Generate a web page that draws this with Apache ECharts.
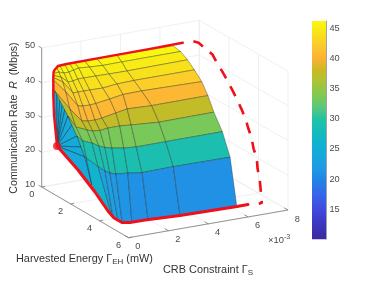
<!DOCTYPE html>
<html><head><meta charset="utf-8">
<script src="https://cdn.jsdelivr.net/npm/echarts@6/dist/echarts.min.js"></script>
<style>html,body{margin:0;padding:0;background:#fff}#c{width:374px;height:281px}</style>
</head><body><div id="c"></div>
<script>
// ---- values ----
const sTicks=[0,2,4,6,8];            // CRB constraint (x 10^-3)
const eTicks=[0,2,4,6];              // harvested energy (mW)
const zTicks=[10,20,30,40,50];       // rate (Mbps)
const barTicks=[15,20,25,30,35,40,45];
// surface rows: rate of each mesh row
const rowR=[46,45,44,42.5,40.5,37.5,33.5,29,21,13];
// colour value of the lowest band, per column gap
const lowBand=[24.4,26,23,22.3,21.8,21.4,21,21,21];
// surface columns: CRB (s) and energy (e) at each row
const colS=[
 [-.21,-.08,.01,.22,.52,.54,.31,.37,1.13,1.39],
 [.19,.23,.21,.30,.21,-.07,-.11,.27,1.11,1.39],
 [.44,.36,.15,-.04,-.25,-.40,.12,.49,1.00,.27],
 [.73,.62,.41,.22,-.06,-.17,.28,.56,.98,.08],
 [.99,.94,.73,.51,.28,.17,.59,.69,1.04,.07],
 [1.25,1.27,1.03,.81,.61,.57,1.06,.93,1.20,.10],
 [1.75,1.76,1.63,1.45,1.45,1.45,1.66,1.39,1.73,.48],
 [2.37,2.38,2.28,2.27,2.27,2.16,2.17,1.94,2.31,1.27],
 [3.39,3.36,3.19,3.17,3.23,3.33,3.43,3.44,3.92,2.80],
 [6.19,6.34,6.28,6.22,6.18,6.18,6.23,6.30,6.75,5.61]];
const colE=[
 [1.11,.93,.79,.50,.09,.17,1.39,1.93,1.44,1.57],
 [.80,.88,1.05,1.06,1.39,2.05,2.52,2.48,1.58,1.57],
 [.66,1.05,1.62,2.22,2.85,3.33,2.97,2.81,2.53,4.42],
 [.61,1.04,1.60,2.21,2.93,3.43,3.15,3.19,3.03,4.82],
 [.59,.93,1.50,2.21,2.95,3.45,3.22,3.42,3.29,5.17],
 [.58,.83,1.50,2.22,2.91,3.38,3.12,3.58,3.48,5.42],
 [.59,.91,1.51,2.24,2.72,3.14,3.12,3.77,3.58,5.57],
 [.58,.98,1.54,2.10,2.52,2.95,3.21,3.87,3.77,5.60],
 [.58,.96,1.55,2.05,2.49,3.04,3.40,3.85,3.72,5.70],
 [.63,.95,1.50,2.05,2.60,3.02,3.36,3.84,3.76,5.75]];
// flat face in the plane s = 0 (fan round one point)
const fanApex=[0,1.06,24.36];
const fanE=[.82,1.06,1.26,1.44,1.61,1.82,2.09,2.44,2.72,2.99,3.48];
const fanR=[40.19,39.32,38.40,37.65,36.36,34.86,32.94,30.60,28.13,25.91,19.04];
// red curves
const topS=[0,0,0,0,0,0,-.04,.36,.83,2.54,5.10,6.78];
const topE=[1.06,.99,.85,.80,.80,.82,.94,.63,.59,.57,.54,.51];
const topR=[24.36,27.08,32.79,38.43,43.32,45.08,46,46,46,46,46,46];
const botS=[0,0,0,0,0,0,.06,.37,1.12,2.77,5.57,6.13];
const botE=[1.06,1.13,2.51,3.68,4.58,5.0,5.46,5.59,5.60,5.74,5.82,5.81];
const botR=[24.36,24.24,21,17.51,14.23,13.22,13,13,13,13,13,13];
const dashS=7.25;
const dashE=[.60,.95,1.36,1.91,2.19,2.61,2.95,3.30,3.57,3.85,4.13,4.33,4.54,4.68,4.89,4.95,5.09,5.16,5.23,5.03];
const dashR=[46.16,46.58,46.14,45.46,43.84,41.99,40.22,38.2,36.56,34.63,32.45,30.06,27.99,25.14,23.06,20.04,17.51,14.52,10.95,10.17];
// colour scale
const stopV=[10,12.5,15,17.5,20,22,25,27.5,30,32,34,36,38,40,42,44,46.2];
const stopC=['#3a2a9e','#3d36c0','#3f4adf','#3566ea','#2086e6','#1f9ce4','#12aed6','#12bac0','#22c3a4','#5cc878','#82c950','#a8c438','#cbb922','#fcb234','#fcc82e','#f8e01a','#fbf80e'];

// ---- oblique view of the box ----
function proj(s,e,z){
  return [41.7+19.94*s+14.47*e-1.9*(s/8)*(1-e/6),
          187-3.46*s+8.45*e-3.475*(z-10)];
}
function hex(c){return [1,3,5].map(i=>parseInt(c.substr(i,2),16));}
function colour(v){
  let i=0; while(i<stopV.length-2&&v>stopV[i+1])i++;
  const t=Math.max(0,Math.min(1,(v-stopV[i])/(stopV[i+1]-stopV[i])));
  const a=hex(stopC[i]),b=hex(stopC[i+1]);
  return 'rgb('+a.map((x,k)=>Math.round(x+(b[k]-x)*t)).join(',')+')';
}
// grid segments of the three back planes
const seg=[];
zTicks.forEach(z=>{seg.push([0,0,z,8,0,z]);seg.push([8,0,z,8,6,z]);});
sTicks.forEach(s=>{seg.push([s,0,10,s,0,50]);seg.push([s,0,10,s,6,10]);});
eTicks.forEach(e=>{seg.push([8,e,10,8,e,50]);seg.push([0,e,10,8,e,10]);});
// faces
const faces=[];
for(let k=0;k<rowR.length-1;k++)for(let j=0;j<colS.length-1;j++)faces.push([k,j]);
const fanFaces=fanE.slice(0,-1).map((_,i)=>[i,0]);
// axis lines and ticks
const axisSeg=[[0,0,10,0,0,50],[0,0,10,0,6,10],[0,6,10,8,6,10]];
zTicks.forEach(z=>axisSeg.push([0,0,z,0,-.22,z]));
eTicks.forEach(e=>axisSeg.push([0,e,10,.18,e,10]));
sTicks.forEach(s=>axisSeg.push([s,6,10,s,5.75,10]));
// tick labels
const font='9.2px "Liberation Sans"';
const labels=[];
zTicks.forEach(z=>{const p=proj(0,0,z);labels.push([p[0]-6.5,p[1]-2.5,String(z),'right']);});
eTicks.forEach(e=>{const p=proj(0,e,10);labels.push([p[0]-10,p[1]+7.5,String(e),'center']);});
sTicks.forEach(s=>{const p=proj(s,6,10);labels.push([p[0]+9.3,p[1]+9,String(s),'center']);});

const segStyle=(c,w)=>({stroke:c,lineWidth:w,fill:null});
const chart=echarts.init(document.getElementById('c'),null,{renderer:'canvas'});
const curve=(S,E,R)=>S.map((s,i)=>proj(s,E[i],R[i]));
chart.setOption({
 animation:false,backgroundColor:'#fff',
 grid:[{left:0,top:0,width:374,height:281,show:false},
       {left:312,top:21,width:14,height:218.3,show:false}],
 xAxis:[{type:'value',gridIndex:0,min:0,max:374,show:false},
        {type:'value',gridIndex:1,min:0,max:1,show:false}],
 yAxis:[{type:'value',gridIndex:0,min:0,max:281,inverse:true,show:false},
        {type:'value',gridIndex:1,min:10,max:46.2,position:'right',splitLine:{show:false},
         axisLine:{show:true,onZero:false,lineStyle:{color:'#8c8c8c',width:.8}},
         axisTick:{show:true,inside:true,length:2.5,customValues:barTicks,lineStyle:{color:'#555',width:.8}},
         axisLabel:{show:true,customValues:barTicks,margin:3.5,color:'#4a4a4a',fontSize:9.2,fontFamily:'Liberation Sans'}}],
 series:[
  {type:'custom',z:1,coordinateSystem:'cartesian2d',xAxisIndex:0,yAxisIndex:0,silent:true,clip:false,data:seg.map((_,i)=>[i,0]),
   renderItem(p,api){const d=seg[p.dataIndex],a=api.coord(proj(d[0],d[1],d[2])),b=api.coord(proj(d[3],d[4],d[5]));
     return {type:'line',shape:{x1:a[0],y1:a[1],x2:b[0],y2:b[1]},style:segStyle('#ececec',.8)};}},
  {type:'custom',z:2,coordinateSystem:'cartesian2d',silent:true,clip:false,data:axisSeg.map((_,i)=>[i,0]),
   renderItem(p,api){const d=axisSeg[p.dataIndex],a=api.coord(proj(d[0],d[1],d[2])),b=api.coord(proj(d[3],d[4],d[5]));
     return {type:'line',shape:{x1:a[0],y1:a[1],x2:b[0],y2:b[1]},style:segStyle('#7a7a7a',.8)};}},
  {type:'custom',z:3,coordinateSystem:'cartesian2d',silent:true,clip:false,data:fanFaces,
   renderItem(p,api){const i=p.dataIndex;
     const pts=[proj(fanApex[0],fanApex[1],fanApex[2]),proj(0,fanE[i],fanR[i]),proj(0,fanE[i+1],fanR[i+1])].map(q=>api.coord(q));
     return {type:'polygon',shape:{points:pts},style:{fill:colour(fanApex[2]),stroke:'rgba(15,25,35,.7)',lineWidth:.6}};}},
  {type:'custom',z:4,coordinateSystem:'cartesian2d',silent:true,clip:false,data:faces,
   renderItem(p,api){const f=faces[p.dataIndex],k=f[0],j=f[1];
     const v=(a,b)=>api.coord(proj(colS[b][a],colE[b][a],rowR[a]));
     const val=k===rowR.length-2?lowBand[j]:rowR[k];
     return {type:'polygon',shape:{points:[v(k,j),v(k,j+1),v(k+1,j+1),v(k+1,j)]},
       style:{fill:colour(val),stroke:'rgba(25,30,30,.62)',lineWidth:.55}};}},
  {type:'custom',z:5,coordinateSystem:'cartesian2d',silent:true,clip:false,data:labels.map((_,i)=>[i,0]),
   renderItem(p,api){const d=labels[p.dataIndex],a=api.coord([d[0],d[1]]);
     return {type:'text',style:{x:a[0],y:a[1],text:d[2],align:d[3],verticalAlign:'middle',font:font,fill:'#4a4a4a'}};}},
  {type:'line',z:6,showSymbol:false,silent:true,clip:false,data:curve(topS,topE,topR),lineStyle:{color:'#f0101c',width:2.4,cap:'round',join:'round'}},
  {type:'line',z:6,showSymbol:false,silent:true,clip:false,data:curve(botS,botE,botR),lineStyle:{color:'#f0101c',width:3,cap:'round',join:'round'}},
  {type:'line',z:6,showSymbol:false,silent:true,clip:false,data:curve(dashE.map(()=>dashS),dashE,dashR),
   lineStyle:{color:'#f0101c',width:2.6,type:[11,9],cap:'butt',join:'round'}},
  {type:'scatter',z:7,silent:true,clip:false,symbolSize:8,data:[proj(fanApex[0],fanApex[1],fanApex[2])],itemStyle:{color:'#f0101c'}},
  {type:'custom',z:2,coordinateSystem:'cartesian2d',xAxisIndex:1,yAxisIndex:1,silent:true,clip:false,data:[[0,10]],
   renderItem(p,api){const a=api.coord([0,46.2]),b=api.coord([1,10]);
     const stops=stopV.map((v,i)=>({offset:1-(v-10)/36.2,color:stopC[i]}));
     return {type:'rect',shape:{x:a[0],y:a[1],width:b[0]-a[0],height:b[1]-a[1]},
       style:{fill:new echarts.graphic.LinearGradient(0,0,0,1,stops.reverse())}};}}
 ],
 graphic:[
  {type:'text',x:14.5,y:118,rotation:Math.PI/2,z:10,style:{
    text:'Communication Rate  {i|R}  (Mbps)',align:'center',verticalAlign:'middle',font:'10.6px "Liberation Sans"',fill:'#333',
    rich:{i:{font:'italic 10.6px "Liberation Sans"',fill:'#333'}}}},
  {type:'text',x:16,y:259,z:10,style:{
    text:'Harvested Energy Γ{s|EH} (mW)',align:'left',verticalAlign:'middle',font:'10.9px "Liberation Sans"',fill:'#333',
    rich:{s:{font:'8px "Liberation Sans"',fill:'#333',verticalAlign:'bottom',padding:[6,0,0,0]}}}},
  {type:'text',x:163,y:270,z:10,style:{
    text:'CRB Constraint Γ{s|S}',align:'left',verticalAlign:'middle',font:'10.9px "Liberation Sans"',fill:'#333',
    rich:{s:{font:'8px "Liberation Sans"',fill:'#333',verticalAlign:'bottom',padding:[6,0,0,0]}}}},
  {type:'text',x:268,y:240,z:10,style:{
    text:'×10{s|-3}',align:'left',verticalAlign:'middle',font:'9.4px "Liberation Sans"',fill:'#4a4a4a',
    rich:{s:{font:'7.2px "Liberation Sans"',fill:'#4a4a4a',verticalAlign:'top',padding:[0,0,5,0]}}}}
 ]
});
</script></body></html>
